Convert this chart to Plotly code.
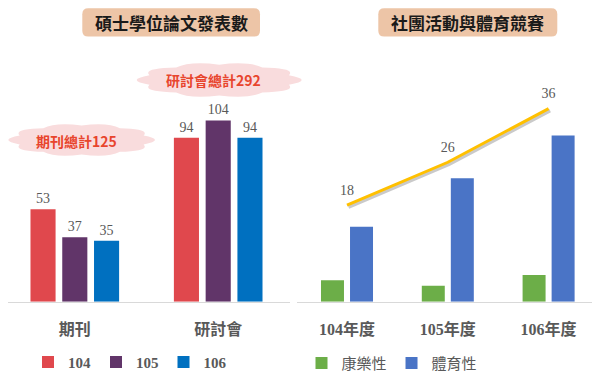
import math
import plotly.graph_objects as go

# ---------------- data ----------------
pub_categories = ["期刊", "研討會"]
pub_years = ["104", "105", "106"]
pub_104 = [53, 94]
pub_105 = [37, 104]
pub_106 = [35, 94]
pub_totals = [125, 292]

act_categories = ["104年度", "105年度", "106年度"]
act_recreation = [4, 3, 5]    # 康樂性
act_sports = [14, 23, 31]     # 體育性
act_total = [18, 26, 36]

titles = ["碩士學位論文發表數", "社團活動與體育競賽"]
series_names_right = ["康樂性", "體育性"]

# ---------------- styles ----------------
pub_colors = ["#E0484D", "#613569", "#0070C0"]
act_colors = ["#6CAE48", "#4A74C6"]
line_color = "#FFC000"
gray = "#595959"
SERIF = "Liberation Serif, Noto Sans CJK TC"
SANS = "Noto Sans CJK TC, Noto Sans"

# page body has an 8px margin: figure sized to the visible area
OX, OY = 8, 8
W, H = 592, 372


def px(x):
    return (x - OX) / W


def py(y):
    return 1 - (y - OY) / H


fig = go.Figure()

# left chart bars
left_w = 0.175
left_step = 0.2215
for i, (name, vals) in enumerate(zip(pub_years, [pub_104, pub_105, pub_106])):
    center = (i - 1) * left_step
    fig.add_trace(go.Bar(
        x=pub_categories, y=vals, name=name,
        marker=dict(color=pub_colors[i], line=dict(width=0)),
        width=left_w, offset=center - left_w / 2,
        text=vals, textposition="outside", cliponaxis=False,
        textfont=dict(family="Liberation Serif", size=14, color=gray),
        xaxis="x", yaxis="y", legend="legend",
    ))

# right chart bars
right_w = 0.228
right_step = 0.144
for i, (name, vals) in enumerate(zip(series_names_right, [act_recreation, act_sports])):
    center = (-1 if i == 0 else 1) * right_step
    fig.add_trace(go.Bar(
        x=act_categories, y=vals, name=name,
        marker=dict(color=act_colors[i], line=dict(width=0)),
        width=right_w, offset=center - right_w / 2,
        xaxis="x2", yaxis="y2", legend="legend2",
    ))

# line shadow
fig.add_trace(go.Scatter(
    x=act_categories, y=act_total, mode="lines",
    line=dict(color="rgba(80,80,80,0.30)", width=3.5),
    showlegend=False, hoverinfo="skip", xaxis="x3", yaxis="y3",
))
# line
fig.add_trace(go.Scatter(
    x=act_categories, y=act_total, mode="lines+markers+text",
    line=dict(color=line_color, width=3),
    marker=dict(size=9, color="rgba(0,0,0,0)"),
    text=act_total, textposition="top center",
    textfont=dict(family="Liberation Serif", size=14, color=gray),
    cliponaxis=False, showlegend=False, xaxis="x4", yaxis="y4",
))

# layout geometry (screen px)
left_cat_px = 143.4
left_start = 3.1
left_dom = [0.0, px(289.9)]
left_xrange = [-0.5 + (OX - left_start) / left_cat_px, 1.5]
right_dom = [px(296.6), px(599.0)]
right_cat_px = (599.0 - 296.6) / 3
base_y = 305
y_dom = [py(base_y), 1.0]
plot_h = base_y - OY
left_range = [0, plot_h / 1.763]
right_range = [0, plot_h / 5.425]

xcommon = dict(type="category", showline=True, linecolor="#D9D9D9", linewidth=1,
               showgrid=False, zeroline=False, ticks="", ticklabelstandoff=13,
               tickfont=dict(family=SERIF, size=16, color=gray, weight="bold"))
ycommon = dict(visible=False, showgrid=False, zeroline=False)

dshift = 1.5 / right_cat_px
shift_y = 2.0 / H

fig.update_layout(
    width=W, height=H, margin=dict(l=0, r=0, t=0, b=0),
    paper_bgcolor="white", plot_bgcolor="rgba(0,0,0,0)",
    barmode="group",
    xaxis=dict(domain=left_dom, range=left_xrange, anchor="y", **xcommon),
    yaxis=dict(domain=y_dom, range=left_range, anchor="x", **ycommon),
    xaxis2=dict(domain=right_dom, range=[-0.5, 2.5], anchor="y2", **xcommon),
    yaxis2=dict(domain=y_dom, range=right_range, anchor="x2", **ycommon),
    xaxis3=dict(domain=right_dom, range=[-0.5 - dshift, 2.5 - dshift],
                anchor="y3", type="category", visible=False),
    yaxis3=dict(domain=[y_dom[0] - shift_y, y_dom[1] - shift_y], range=right_range,
                anchor="x3", **ycommon),
    xaxis4=dict(domain=right_dom, range=[-0.5, 2.5], anchor="y4", type="category", visible=False),
    yaxis4=dict(domain=y_dom, range=right_range, anchor="x4", **ycommon),
    legend=dict(orientation="h", x=px(130), xanchor="center", y=py(366), yanchor="middle",
                font=dict(family=SERIF, size=15, color=gray, weight="bold"),
                bgcolor="rgba(0,0,0,0)", itemwidth=30, traceorder="normal"),
    legend2=dict(orientation="h", x=px(392), xanchor="center", y=py(367), yanchor="middle",
                 font=dict(family=SANS, size=15, color=gray),
                 bgcolor="rgba(0,0,0,0)", itemwidth=30, traceorder="normal"),
    showlegend=True,
)


# ---------------- decorations ----------------
def P(x, y):
    return f"{px(x):.5f},{py(y):.5f}"


def rrect(x0, y0, x1, y1, r):
    return (f"M{P(x0 + r, y0)} L{P(x1 - r, y0)} Q{P(x1, y0)} {P(x1, y0 + r)} "
            f"L{P(x1, y1 - r)} Q{P(x1, y1)} {P(x1 - r, y1)} L{P(x0 + r, y1)} "
            f"Q{P(x0, y1)} {P(x0, y1 - r)} L{P(x0, y0 + r)} Q{P(x0, y0)} {P(x0 + r, y0)} Z")


def cloud(x0, y0, x1, y1, n=10, bump=1.3):
    cx, cy = (x0 + x1) / 2, (y0 + y1) / 2
    peak = 0.5 * math.cos(math.pi / n) + 0.5 * bump
    rx, ry = (x1 - x0) / 2 / peak, (y1 - y0) / 2 / peak
    pts = []
    for k in range(n + 1):
        a = 2 * math.pi * k / n + math.pi / n
        pts.append((cx + rx * math.cos(a), cy + ry * math.sin(a)))
    d = f"M{P(*pts[0])}"
    for k in range(n):
        a = 2 * math.pi * (k + 0.5) / n + math.pi / n
        c = (cx + rx * bump * math.cos(a), cy + ry * bump * math.sin(a))
        d += f" Q{P(*c)} {P(*pts[k + 1])}"
    return d + " Z"


shapes = [
    dict(type="path", path=rrect(82.3, 8.3, 260, 36.9, 6), xref="paper", yref="paper",
         fillcolor="#EDC5A7", line=dict(width=0), layer="below"),
    dict(type="path", path=rrect(378.3, 8.3, 557.3, 36.9, 6), xref="paper", yref="paper",
         fillcolor="#EDC5A7", line=dict(width=0), layer="below"),
    dict(type="path", path=cloud(136.7, 63.3, 301.7, 98.3), xref="paper", yref="paper",
         fillcolor="#F9DCDD", line=dict(width=0), layer="below"),
    dict(type="path", path=cloud(8.3, 125, 155, 158), xref="paper", yref="paper",
         fillcolor="#F9DCDD", line=dict(width=0), layer="below"),
]
fig.update_layout(shapes=shapes)

ann_common = dict(showarrow=False, xref="paper", yref="paper", xanchor="center", yanchor="middle")
annotations = [
    dict(text=titles[0], x=px(171), y=py(22.6),
         font=dict(family=SANS, size=17, color="#1A1A1A", weight="bold"), **ann_common),
    dict(text=titles[1], x=px(468), y=py(22.6),
         font=dict(family=SANS, size=17, color="#1A1A1A", weight="bold"), **ann_common),
    dict(text=f"{pub_categories[1]}總計{pub_totals[1]}", x=px(213.5), y=py(80.5),
         font=dict(family=SANS, size=14, color="#E8452D", weight="bold"), **ann_common),
    dict(text=f"{pub_categories[0]}總計{pub_totals[0]}", x=px(76.5), y=py(142.8),
         font=dict(family=SANS, size=14, color="#E8452D", weight="bold"), **ann_common),
]
fig.update_layout(annotations=annotations)

fig.write_html("out.html")
